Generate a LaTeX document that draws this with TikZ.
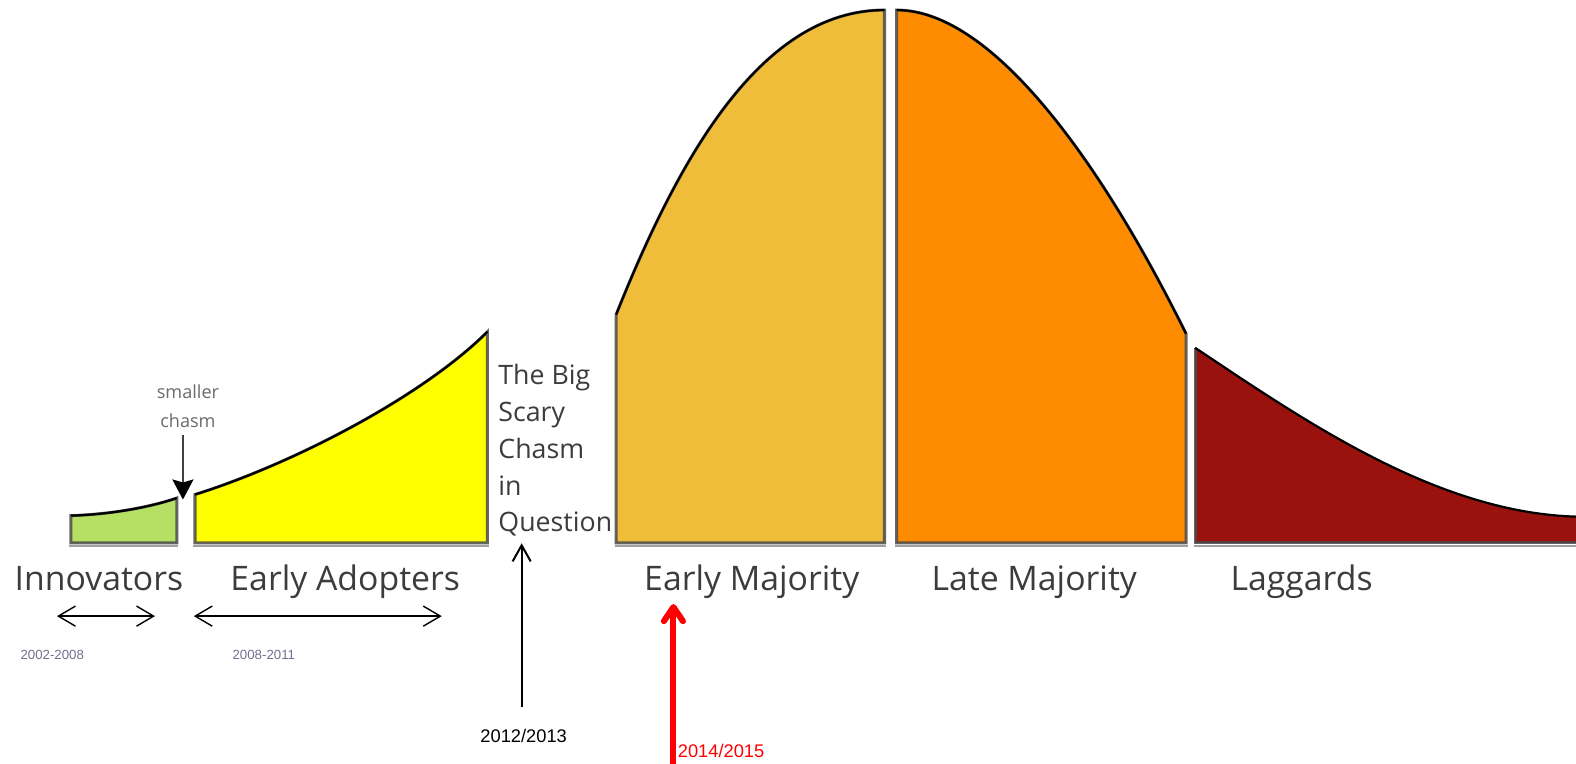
\documentclass[tikz,border=0pt]{standalone}
\usepackage{fontspec}
\setmainfont{Open Sans}
\newfontfamily\arialfont{Liberation Sans}
\usetikzlibrary{arrows.meta}
\definecolor{innogreen}{HTML}{B6E063}
\definecolor{adoptyellow}{HTML}{FFFF00}
\definecolor{earlygold}{HTML}{F0BD3B}
\definecolor{lateorange}{HTML}{FF8C00}
\definecolor{lagred}{HTML}{99120E}
\definecolor{labelgray}{HTML}{3C3C3C}
\definecolor{smallgray}{HTML}{6A6A6A}
\definecolor{yeargray}{HTML}{707090}
\definecolor{edgegray}{HTML}{4A4A4A}
\definecolor{shadowgray}{HTML}{A0A0A0}
\begin{document}
\begin{tikzpicture}[x=0.5pt,y=-0.5pt,
  seg/.style={draw=edgegray,draw opacity=0.85,line width=1.5pt,line join=miter},
  rim/.style={draw=black,line width=1.1pt},
  shadowline/.style={draw=shadowgray,line width=0.8pt},
  lbl/.style={font=\fontsize{16.8}{20}\selectfont,text=labelgray,inner sep=0pt,anchor=base},
  chasmtxt/.style={font=\fontsize{13.3}{16}\selectfont,text=labelgray,inner sep=0pt,anchor=base west},
  smalltxt/.style={font=\fontsize{9}{11}\selectfont,text=smallgray,inner sep=0pt,anchor=base},
  yeartxt/.style={font=\arialfont\fontsize{6.6}{8}\selectfont,text=yeargray,inner sep=0pt,anchor=base west},
  datetxt/.style={font=\arialfont\fontsize{9.1}{11}\selectfont,inner sep=0pt},
  spanarrow/.style={line width=0.7pt,{Straight Barb[length=8.5pt,width=10pt]}-{Straight Barb[length=8.5pt,width=10pt]}}
]
\useasboundingbox (0,0) rectangle (1568,760);

% bottom shadows
\draw[shadowline] (69,543.5) -- (177.5,543.5);
\draw[shadowline] (192.5,543.5) -- (486.5,543.5);
\draw[shadowline] (611.5,543.5) -- (881.5,543.5);
\draw[shadowline] (890.5,543.5) -- (1181.5,543.5);
\draw[shadowline] (1187.5,543.5) -- (1576,543.5);

% Innovators
\path[seg,fill=innogreen] (70.5,540) -- (70.5,513) .. controls (105,512) and (145,506) .. (176,495.5) -- (176,540) -- cycle;
\draw[rim] (70.5,513) .. controls (105,512) and (145,506) .. (176,495.5);
% Early adopters
\path[seg,fill=adoptyellow] (194,540) -- (194,492) .. controls (290,462) and (420,395) .. (485,330) -- (485,540) -- cycle;
\draw[rim] (194,492) .. controls (290,462) and (420,395) .. (485,330);
% Early majority
\path[seg,fill=earlygold] (613,540) -- (613,313) .. controls (678,150) and (760,10) .. (880,10) -- (880,540) -- cycle;
\draw[rim] (613,313) .. controls (678,150) and (760,10) .. (880,10);
% Late majority
\path[seg,fill=lateorange] (892,540) -- (892,10) .. controls (990,10) and (1100,170) .. (1180,332) -- (1180,540) -- cycle;
\draw[rim] (892,10) .. controls (990,10) and (1100,170) .. (1180,332);
% Laggards
\path[fill=lagred] (1189,540) -- (1189,346) .. controls (1300,420) and (1430,510) .. (1568,514) -- (1576,514) -- (1576,540) -- cycle;
\draw[seg] (1576,540) -- (1189,540) -- (1189,346);
\draw[rim] (1189,346) .. controls (1300,420) and (1430,510) .. (1568,514) -- (1576,514);

% labels
\node[lbl] (innov) at (98.5,587) {Innovators};
\node[lbl] (adopt) at (343.5,587) {Early Adopters};
\node[lbl] (emaj) at (748,587) {Early Majority};
\node[lbl] (lmaj) at (1029,587) {Late Majority};
\node[lbl] (lagg) at (1295,587) {Laggards};

% chasm text
\node[chasmtxt] (ch1) at (495.5,383) {The Big};
\node[chasmtxt] (ch2) at (495.5,419.5) {Scary};
\node[chasmtxt] (ch3) at (495.5,456.5) {Chasm};
\node[chasmtxt] (ch4) at (495.5,493) {in};
\node[chasmtxt] (ch5) at (495.5,529) {Question};

% smaller chasm
\node[smalltxt] (sm1) at (187,396) {smaller};
\node[smalltxt] (sm2) at (187,425) {chasm};
\coordinate (gapTop) at (182,433);
\coordinate (gapTip) at (182,497);
\draw[black!75,line width=0.9pt,-{Stealth[length=10pt,width=10.5pt,inset=1.5pt,fill=black,color=black]}] (gapTop) -- (gapTip);

% spans
\coordinate (innoL) at (56.7,613);
\coordinate (innoR) at (154.2,613);
\draw[spanarrow] (innoL) -- (innoR);
\coordinate (adoptL) at (192.8,613);
\coordinate (adoptR) at (439.5,613);
\draw[spanarrow] (adoptL) -- (adoptR);
\node[yeartxt] (yr1) at (20,656.5) {2002-2008};
\node[yeartxt] (yr2) at (231,656.5) {2008-2011};

% big chasm arrow
\node[datetxt,anchor=base] (y1213) at (521,739) {2012/2013};
\coordinate (bigTail) at (519,703);
\coordinate (bigTip) at (519,540.5);
\draw[line width=1pt,-{Straight Barb[length=8pt,width=9pt]}] (bigTail) -- (bigTip);

% red arrow
\node[datetxt,anchor=base west,text=red] (y1415) at (674,754) {2014/2015};
\coordinate (redTail) at (670,775);
\coordinate (redTip) at (670,601);
\draw[red,line width=3pt,line cap=round,-{Straight Barb[length=7pt,width=9.5pt,round]}] (redTail) -- (redTip);
\end{tikzpicture}
\end{document}
